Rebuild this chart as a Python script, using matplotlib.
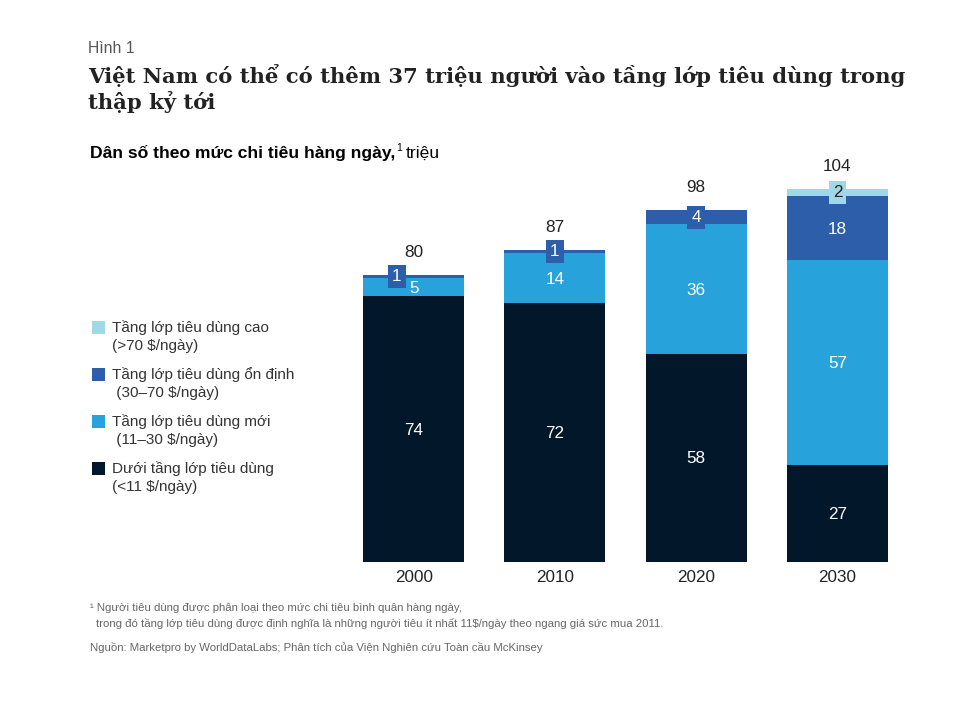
import matplotlib
matplotlib.use("Agg")
import matplotlib.pyplot as plt
from matplotlib.patches import Rectangle
import numpy as np

# ---------------- data ----------------
years = ["2000", "2010", "2020", "2030"]
below = [74, 72, 58, 27]          # Dưới tầng lớp tiêu dùng (<11 $/ngày)
new_cls = [5, 14, 36, 57]         # Tầng lớp tiêu dùng mới (11–30 $/ngày)
stable = [1, 1, 4, 18]            # Tầng lớp tiêu dùng ổn định (30–70 $/ngày)
high = [0, 0, 0, 2]               # Tầng lớp tiêu dùng cao (>70 $/ngày)
totals = [80, 87, 98, 104]

series_names = [
    "Tầng lớp tiêu dùng cao\n(>70 $/ngày)",
    "Tầng lớp tiêu dùng ổn định\n (30–70 $/ngày)",
    "Tầng lớp tiêu dùng mới\n (11–30 $/ngày)",
    "Dưới tầng lớp tiêu dùng\n(<11 $/ngày)",
]

# ---------------- style ----------------
C_NAVY = "#03172b"
C_NEW = "#27a2db"
C_STABLE = "#2d5ea9"
C_HIGH = "#9fd8e6"
TXT = "#222222"
GREY = "#555555"
SANS = ["Liberation Sans", "DejaVu Sans"]
SERIF = ["DejaVu Serif"]
LBL = 12.3

W, H = 969, 704
fig = plt.figure(figsize=(W / 100, H / 100), dpi=100)
fig.patch.set_facecolor("white")


def fx(px):
    return px / W


def fy(py):
    return 1 - py / H


# axes: bar centres at ~413..837 px, baseline at 562 px
ax_left, ax_right = 343, 908
ax_bottom, ax_top = 562, 167
ax = fig.add_axes([fx(ax_left), fy(ax_bottom), (ax_right - ax_left) / W, (ax_bottom - ax_top) / H])
ax.set_xlim(-0.5, 3.5)
ax.set_ylim(0, 110)
ax.axis("off")

x = np.arange(len(years))
bw = 0.715
layers = [
    (below, C_NAVY, "white"),
    (new_cls, C_NEW, "white"),
    (stable, C_STABLE, "white"),
    (high, C_HIGH, TXT),
]
bottom = np.zeros(len(years))
for vals, col, tcol in layers:
    vals = np.array(vals, dtype=float)
    ax.bar(x, vals, bw, bottom=bottom, color=col, edgecolor="none")
    for i, v in enumerate(vals):
        if v <= 0:
            continue
        yc = bottom[i] + v / 2
        if v >= 5:
            ax.text(x[i], yc - 0.3, f"{int(v)}", ha="center", va="center",
                    color=tcol, fontsize=LBL, family=SANS)
        else:
            # small segment: label inside a box of the segment colour
            xo = x[i]
            if bottom[i] > 0 and vals[i] < 3 and layers[1][0][i] < 8:
                xo = x[i] - 0.12
            ax.text(xo, yc, f"{int(v)}", ha="center", va="center",
                    color=tcol, fontsize=LBL, family=SANS, clip_on=False,
                    bbox=dict(boxstyle="square,pad=0.24", fc=col, ec="none"))
    bottom += vals

for i, t in enumerate(totals):
    ax.text(x[i], t + 6.2, f"{t}", ha="center", va="center", color=TXT,
            fontsize=LBL, family=SANS, clip_on=False)
    ax.text(x[i], -4.4, years[i], ha="center", va="center", color=TXT,
            fontsize=LBL, family=SANS, clip_on=False)

# ---------------- titles ----------------
fig.text(fx(88), fy(53), "Hình 1", ha="left", va="baseline", color=GREY,
         fontsize=11.3, family=SANS)
fig.text(fx(88), fy(83), "Việt Nam có thể có thêm 37 triệu người vào tầng lớp tiêu dùng trong",
         ha="left", va="baseline", color=TXT, fontsize=15.2, family=SERIF, fontweight="bold")
fig.text(fx(88), fy(109), "thập kỷ tới",
         ha="left", va="baseline", color=TXT, fontsize=15.2, family=SERIF, fontweight="bold")

renderer = fig.canvas.get_renderer()
sub = fig.text(fx(90), fy(158), "Dân số theo mức chi tiêu hàng ngày,", ha="left", va="baseline",
               color="black", fontsize=12.6, family=SANS, fontweight="bold")
bb = sub.get_window_extent(renderer)
sup = fig.text(fx(bb.x1 + 1), fy(151), "1", ha="left", va="baseline",
               color="black", fontsize=7.5, family=SANS)
bb2 = sup.get_window_extent(renderer)
fig.text(fx(bb2.x1 + 4), fy(158), "triệu", ha="left", va="baseline",
         color="black", fontsize=12.6, family=SANS)

# ---------------- legend ----------------
leg_cols = [C_HIGH, C_STABLE, C_NEW, C_NAVY]
leg_y = [327, 374, 421, 468]
for name, col, yy in zip(series_names, leg_cols, leg_y):
    fig.add_artist(Rectangle((fx(92), fy(yy + 7)), 13 / W, 13 / H,
                             transform=fig.transFigure, facecolor=col, edgecolor="none"))
    l1, l2 = name.split("\n")
    fig.text(fx(112), fy(yy + 5), l1, ha="left", va="baseline", color="#333333",
             fontsize=11, family=SANS)
    fig.text(fx(112), fy(yy + 23), l2, ha="left", va="baseline", color="#333333",
             fontsize=11, family=SANS)

# ---------------- footnotes ----------------
FN = 8.2
fig.text(fx(90), fy(611), "¹ Người tiêu dùng được phân loại theo mức chi tiêu bình quân hàng ngày,",
         ha="left", va="baseline", color="#666666", fontsize=FN, family=SANS)
fig.text(fx(96), fy(627), "trong đó tầng lớp tiêu dùng được định nghĩa là những người tiêu ít nhất 11$/ngày theo ngang giá sức mua 2011.",
         ha="left", va="baseline", color="#666666", fontsize=FN, family=SANS)
fig.text(fx(90), fy(651), "Nguồn: Marketpro by WorldDataLabs; Phân tích của Viện Nghiên cứu Toàn cầu McKinsey",
         ha="left", va="baseline", color="#666666", fontsize=FN, family=SANS)

fig.savefig("out.png", dpi=100, facecolor="white")
